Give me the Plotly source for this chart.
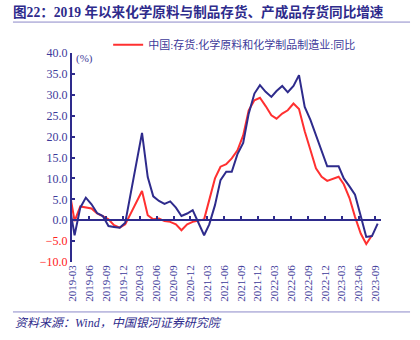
import plotly.graph_objects as go

months = [
    "2019-02", "2019-03", "2019-04", "2019-05", "2019-06", "2019-07", "2019-08", "2019-09",
    "2019-10", "2019-11", "2019-12", "2020-01", "2020-02", "2020-03", "2020-04", "2020-05",
    "2020-06", "2020-07", "2020-08", "2020-09", "2020-10", "2020-11", "2020-12", "2021-01",
    "2021-02", "2021-03", "2021-04", "2021-05", "2021-06", "2021-07", "2021-08", "2021-09",
    "2021-10", "2021-11", "2021-12", "2022-01", "2022-02", "2022-03", "2022-04", "2022-05",
    "2022-06", "2022-07", "2022-08", "2022-09", "2022-10", "2022-11", "2022-12", "2023-01",
    "2023-02", "2023-03", "2023-04", "2023-05", "2023-06", "2023-07", "2023-08", "2023-09",
]

# 中国:存货:化学原料和化学制品制造业:同比 (red)
inventory_yoy = [
    7.0, -0.2, 3.3, 3.1, 2.8, 1.6, 1.0, 0.2,
    -1.2, -1.8, -1.0, None, None, 7.0, 1.2, 0.2,
    0.4, -0.2, -0.4, -1.0, -2.4, -1.0, -0.4, None,
    0.2, 5.0, 10.0, 12.8, 13.4, 14.8, 16.7, 20.3,
    26.3, 28.7, 29.3, 27.3, 25.1, 24.3, 25.5, 26.3,
    27.9, 26.6, 21.3, 16.8, 12.4, 10.4, 9.4, None,
    10.4, 8.6, 5.3, 0.8, -3.2, -5.7, -3.6, None,
]

# 产成品存货同比 (blue)
finished_goods_yoy = [
    3.6, -3.6, 3.0, 5.4, 3.8, 1.7, 1.0, -1.4,
    -1.6, -1.8, -0.6, None, None, 20.9, 10.3, 5.7,
    4.6, 3.9, 4.5, 3.0, 1.0, 1.6, 2.4, None,
    -3.6, -1.0, 3.6, 9.6, 11.6, 11.6, 15.8, 18.5,
    25.5, 30.3, 32.3, 30.7, 29.5, 30.9, 32.1, 30.6,
    32.1, 34.7, 27.1, 24.0, 20.5, 16.8, 12.9, None,
    12.9, 10.0, 8.1, 6.1, 1.0, -4.0, -3.8, -0.8,
]

tick_months = [
    "2019-03", "2019-06", "2019-09", "2019-12", "2020-03", "2020-06", "2020-09", "2020-12",
    "2021-03", "2021-06", "2021-09", "2021-12", "2022-03", "2022-06", "2022-09", "2022-12",
    "2023-03", "2023-06", "2023-09",
]

y_ticks = [-10, -5, 0, 5, 10, 15, 20, 25, 30, 35, 40]

NAVY = "#2E2B8C"
LABEL = "#3D3A9A"
RED = "#FF3030"
SERIF = "Liberation Serif, Noto Sans CJK SC, serif"

x_data = [m + "-13" for m in months]
tickvals = [m + "-01" for m in tick_months]
ytext = [
    (f"<span style='color:#FF2020'>−{abs(v):.1f}</span>" if v < 0 else f"{v:.1f}")
    for v in y_ticks
]
x_range = ["2019-02-27", "2023-10-01"]

fig = go.Figure()
fig.add_trace(go.Scatter(
    x=x_data, y=inventory_yoy, mode="lines", connectgaps=True,
    name="中国:存货:化学原料和化学制品制造业:同比",
    line=dict(color=RED, width=2), xaxis="x", yaxis="y",
))
fig.add_trace(go.Scatter(
    x=x_data, y=finished_goods_yoy, mode="lines", connectgaps=True,
    name="产成品存货:同比", showlegend=False,
    line=dict(color=NAVY, width=2), xaxis="x2", yaxis="y",
))

fig.update_layout(
    width=420, height=340,
    margin=dict(l=72, r=39, t=53, b=78),
    paper_bgcolor="white", plot_bgcolor="white",
    title=dict(
        text="<b>图22：2019 年以来化学原料与制品存货、产成品存货同比增速</b>",
        font=dict(family=SERIF, size=13.6, color=NAVY),
        xref="container", yref="container", x=0.031, xanchor="left",
        y=1 - 12 / 340, yanchor="middle",
    ),
    xaxis=dict(
        type="date", range=x_range, anchor="free", position=0.2,
        showline=True, linecolor=NAVY, linewidth=2,
        ticks="inside", ticklen=3, tickwidth=1.5, tickcolor=NAVY,
        tickvals=tickvals, showticklabels=False, showgrid=False, zeroline=False,
    ),
    xaxis2=dict(
        type="date", range=x_range, overlaying="x", anchor="y", side="bottom",
        showline=False, ticks="", tickvals=tickvals, ticktext=tick_months,
        tickangle=-90, tickfont=dict(family=SERIF, size=11, color=LABEL),
        showgrid=False, zeroline=False,
    ),
    yaxis=dict(
        range=[-10, 40], tickvals=y_ticks, ticktext=ytext,
        showline=True, linecolor=NAVY, linewidth=2,
        ticks="inside", ticklen=3, tickwidth=1.5, tickcolor=NAVY,
        tickfont=dict(family=SERIF, size=12, color=LABEL),
        showgrid=False, zeroline=False,
    ),
    legend=dict(
        orientation="h", x=0.117, xanchor="left", y=1.04, yanchor="middle",
        font=dict(family=SERIF, size=11, color=LABEL),
        bgcolor="rgba(0,0,0,0)",
    ),
    showlegend=True,
    annotations=[
        dict(text="(%)", xref="paper", yref="paper", x=0.008, y=0.976,
             xanchor="left", yanchor="middle", showarrow=False,
             font=dict(family=SERIF, size=11, color=LABEL)),
        dict(text="<i>资料来源：Wind，中国银河证券研究院</i>", xref="paper", yref="paper",
             x=-0.191, y=-0.292, xanchor="left", yanchor="middle", showarrow=False,
             font=dict(family=SERIF, size=12, color=NAVY)),
    ],
    shapes=[
        dict(type="line", xref="paper", yref="paper", x0=-0.191, x1=1.094,
             y0=1.148, y1=1.148, line=dict(color="#8C88C8", width=1)),
        dict(type="line", xref="paper", yref="paper", x0=-0.191, x1=1.094,
             y0=-0.239, y1=-0.239, line=dict(color="#8C88C8", width=1)),
    ],
)

fig.write_html("out.html")
